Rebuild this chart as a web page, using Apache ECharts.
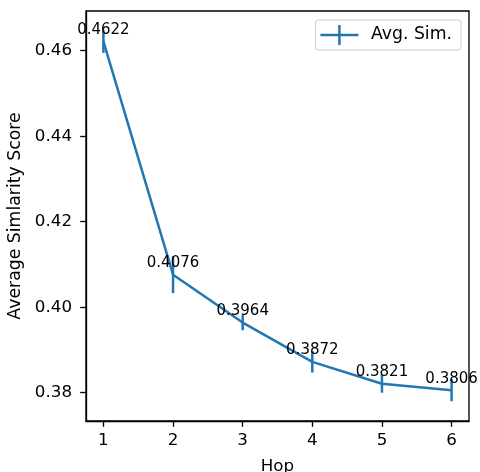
<!DOCTYPE html>
<html>
<head>
<meta charset="utf-8">
<script src="https://cdn.jsdelivr.net/npm/echarts@6/dist/echarts.min.js"></script>
<style>html,body{margin:0;padding:0;background:#fff}#c{width:480px;height:472px}</style>
</head>
<body>
<div id="c"></div>
<script>
const hops = [1, 2, 3, 4, 5, 6];
const avgSim = [0.4622, 0.4076, 0.3964, 0.3872, 0.3821, 0.3806];
const errs = [0.0027, 0.0043, 0.0018, 0.0025, 0.0021, 0.0026];
const yTicks = [0.38, 0.40, 0.42, 0.44, 0.46];
const xTicks = [1, 2, 3, 4, 5, 6];

const FONT = 'DejaVu Sans';
const BLUE = '#1f77b4';
const FS = 16.7;
const chart = echarts.init(document.getElementById('c'), null, {renderer: 'canvas'});
const lineData = hops.map((h, i) => [h, avgSim[i]]);
const errData = hops.map((h, i) => [h, avgSim[i] - errs[i], avgSim[i] + errs[i]]);

chart.setOption({
  animation: false,
  backgroundColor: '#fff',
  textStyle: {fontFamily: FONT},
  grid: {left: 86, right: 11, top: 11, bottom: 51, show: true, borderColor: '#000', borderWidth: 1.33,
    containLabel: false, outerBoundsMode: 'none'},
  legend: {
    right: 19, top: 20,
    icon: 'path://M0,8.75 H38 V11.25 H0 Z M17.75,0 H20.25 V20 H17.75 Z',
    itemWidth: 39, itemHeight: 20,
    padding: [5, 9, 5, 5],
    borderColor: '#cccccc', borderWidth: 1, borderRadius: 3,
    backgroundColor: 'rgba(255,255,255,0.8)',
    textStyle: {fontFamily: FONT, fontSize: 17.3, color: '#000', padding: [0, 0, 0, 7]},
    data: [{name: 'Avg. Sim.', itemStyle: {color: BLUE}}]
  },
  xAxis: {
    type: 'value', min: 0.75, max: 6.25,
    name: 'Hop', nameLocation: 'middle', nameGap: 37,
    nameTextStyle: {fontFamily: FONT, fontSize: FS, color: '#000'},
    axisLine: {show: true, onZero: false, lineStyle: {color: '#000', width: 1.33}},
    axisTick: {show: true, length: 5.8, lineStyle: {color: '#000', width: 1.33}, customValues: xTicks},
    axisLabel: {fontFamily: FONT, fontSize: FS, color: '#000', margin: 11, customValues: xTicks, formatter: v => String(v)},
    splitLine: {show: false}
  },
  yAxis: {
    type: 'value', min: 0.37338, max: 0.46929,
    name: 'Average Simlarity Score', nameLocation: 'middle', nameGap: 52,
    nameTextStyle: {fontFamily: FONT, fontSize: 17.3, color: '#000'},
    axisLine: {show: true, onZero: false, lineStyle: {color: '#000', width: 1.33}},
    axisTick: {show: true, length: 5.8, lineStyle: {color: '#000', width: 1.33}, customValues: yTicks},
    axisLabel: {fontFamily: FONT, fontSize: FS, color: '#000', margin: 14, customValues: yTicks, formatter: v => v.toFixed(2)},
    splitLine: {show: false}
  },
  series: [
    {
      name: 'Avg. Sim.', type: 'line', data: lineData,
      showSymbol: true, symbol: 'circle', symbolSize: 0.01,
      lineStyle: {color: BLUE, width: 2.5},
      itemStyle: {color: BLUE},
      label: {show: true, position: 'top', distance: 4, fontFamily: FONT, fontSize: 15, color: '#000',
        formatter: p => p.value[1].toFixed(4)},
      z: 3
    },
    {
      name: 'err', type: 'custom', data: errData, z: 2,
      renderItem: (params, api) => {
        const x = api.value(0);
        const p1 = api.coord([x, api.value(1)]);
        const p2 = api.coord([x, api.value(2)]);
        return {type: 'line', shape: {x1: p1[0], y1: p1[1], x2: p2[0], y2: p2[1]},
          style: {stroke: BLUE, lineWidth: 2.5}};
      }
    }
  ]
});
</script>
</body>
</html>
